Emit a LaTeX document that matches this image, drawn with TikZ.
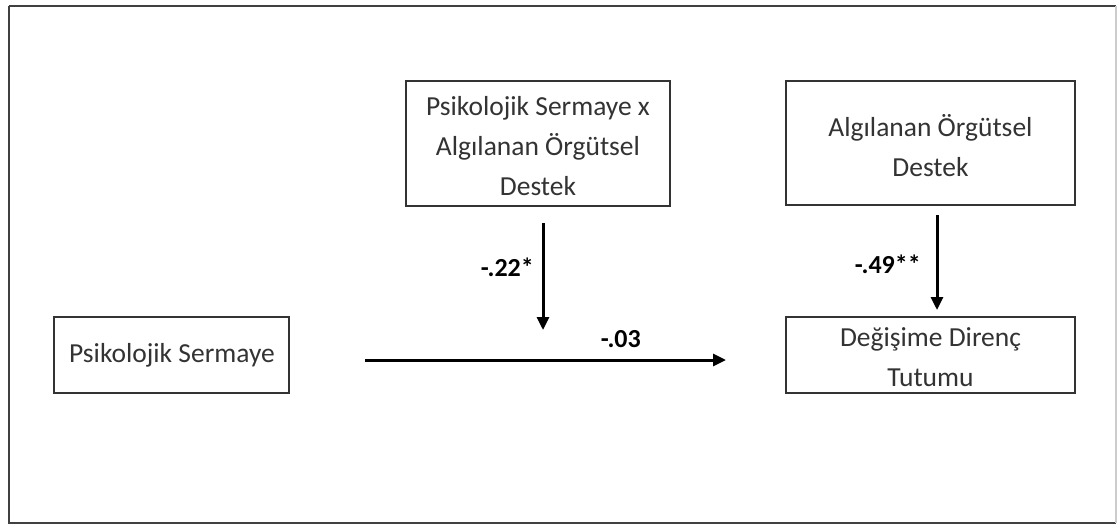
\documentclass[tikz,border=0pt]{standalone}
\usepackage{fontspec}
\setmainfont{Carlito}
\usetikzlibrary{arrows.meta}
\begin{document}
\begin{tikzpicture}[x=1pt,y=-1pt,
  varbox/.style={draw=black!80, line width=2pt, inner sep=0pt},
  boxtext/.style={font=\fontsize{27.5}{40}\selectfont, text=black!80, align=center},
  path/.style={line width=3pt, -{Triangle[length=13pt,width=12pt]}},
  coef/.style={font=\fontsize{26}{30}\selectfont\bfseries, inner sep=0pt}]
  \useasboundingbox (0,0) rectangle (1117,525);
  % outer frame
  \draw[line width=2pt, draw=black!75] (8.5,5.5) -- (8.5,522.5) -- (1116,522.5);
  \draw[line width=2pt, draw=black!75] (8.5,5.5) -- (1116,5.5);
  \draw[line width=2pt, draw=black!20] (1116,5.5) -- (1116,522.5);
  % variable boxes
  \draw[varbox] (54,317) rectangle (289,393);
  \node[boxtext] (ps) at (172,355) {Psikolojik Sermaye};
  \draw[varbox] (406,81) rectangle (670,206);
  \node[boxtext] (int) at (538,146) {Psikolojik Sermaye x\\Algılanan Örgütsel\\Destek};
  \draw[varbox] (786,81) rectangle (1075,205);
  \node[boxtext] (aos) at (930.5,146) {Algılanan Örgütsel\\Destek};
  \draw[varbox] (786,317) rectangle (1075,393);
  \node[boxtext] (ddt) at (930.5,357) {Değişime Direnç\\Tutumu};
  % path endpoints
  \coordinate (intA) at (543,223);
  \coordinate (intB) at (543,330);
  \coordinate (aosA) at (937,215);
  \coordinate (aosB) at (937,310);
  \coordinate (psA) at (365,360);
  \coordinate (psB) at (726,360);
  % paths
  \draw[path] (intA) -- (intB);
  \draw[path] (aosA) -- (aosB);
  \draw[path] (psA) -- (psB);
  % coefficients
  \node[coef, anchor=east] (c1) at (534,267) {-.22*};
  \node[coef, anchor=east] (c2) at (921,264) {-.49**};
  \node[coef, anchor=east] (c3) at (641,339) {-.03};
\end{tikzpicture}
\end{document}
